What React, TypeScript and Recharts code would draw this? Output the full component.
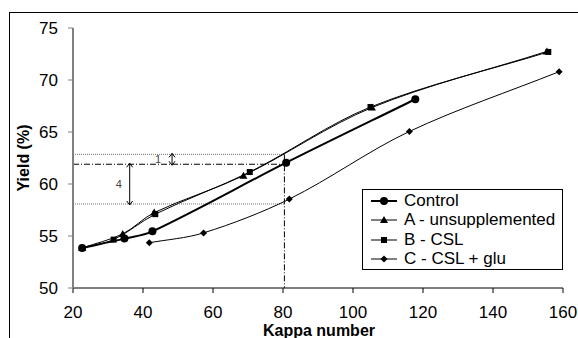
import React from 'react';
import { ComposedChart, Line, XAxis, YAxis, ReferenceLine, Legend, Label } from 'recharts';

const FONT = '"Liberation Sans", Arial, Helvetica, sans-serif';

const xTicks = [20, 40, 60, 80, 100, 120, 140, 160];
const yTicks = [50, 55, 60, 65, 70, 75];

const controlKappa = [22.6, 34.7, 42.7, 80.9, 117.8];
const controlYield = [53.85, 54.75, 55.45, 62.05, 68.15];
const aKappa = [22.6, 34.2, 43.2, 68.7, 105.4, 155.4];
const aYield = [53.85, 55.2, 57.25, 60.8, 67.35, 72.75];
const bKappa = [22.6, 31.6, 43.5, 70.5, 105.0, 155.8];
const bYield = [53.85, 54.65, 57.1, 61.15, 67.4, 72.7];
const cKappa = [41.8, 57.3, 81.8, 116.1, 158.9];
const cYield = [54.35, 55.3, 58.55, 65.05, 70.8];

const seriesNames = ['Control', 'A - unsupplemented', 'B - CSL', 'C - CSL + glu'];

// annotation values
const guideUpper = 62.85;
const guideMid = 61.9;
const guideLower = 58.08;
const guideKappa = 80.4;
const arrow1Kappa = 48.3;
const arrow4Kappa = 36.2;

const toData = (ks: number[], ys: number[]) => ks.map((k, i) => ({ k, y: ys[i] }));
const controlData = toData(controlKappa, controlYield);
const aData = toData(aKappa, aYield);
const bData = toData(bKappa, bYield);
const cData = toData(cKappa, cYield);

// smoothed line: tangent direction from neighbours, handle length ~ segment length / 3
const smoothCurve = (context: any) => {
  let pts: number[][] = [];
  const tangent = (i: number) => {
    const a = pts[Math.max(0, i - 1)];
    const b = pts[Math.min(pts.length - 1, i + 1)];
    const dx = b[0] - a[0];
    const dy = b[1] - a[1];
    const len = Math.hypot(dx, dy) || 1;
    return [dx / len, dy / len];
  };
  return {
    areaStart() {},
    areaEnd() {},
    lineStart() {
      pts = [];
    },
    point(x: number, y: number) {
      pts.push([+x, +y]);
    },
    lineEnd() {
      const n = pts.length;
      if (!n) return;
      context.moveTo(pts[0][0], pts[0][1]);
      for (let i = 0; i < n - 1; i++) {
        const p1 = pts[i];
        const p2 = pts[i + 1];
        const d = Math.hypot(p2[0] - p1[0], p2[1] - p1[1]) * 0.33;
        const t1 = tangent(i);
        const t2 = tangent(i + 1);
        context.bezierCurveTo(p1[0] + t1[0] * d, p1[1] + t1[1] * d, p2[0] - t2[0] * d, p2[1] - t2[1] * d, p2[0], p2[1]);
      }
    },
  };
};

type MarkerKind = 'circle' | 'triangle' | 'square' | 'diamond';

const Marker = ({ kind, cx, cy }: { kind: MarkerKind; cx: number; cy: number }) => {
  if (kind === 'circle') return <circle cx={cx} cy={cy} r={4} fill="#000" />;
  if (kind === 'triangle')
    return <polygon points={`${cx},${cy - 4} ${cx + 4},${cy + 3} ${cx - 4},${cy + 3}`} fill="#000" />;
  if (kind === 'square') return <rect x={cx - 3} y={cy - 3} width={6} height={6} fill="#000" />;
  return <polygon points={`${cx},${cy - 3.5} ${cx + 3.5},${cy} ${cx},${cy + 3.5} ${cx - 3.5},${cy}`} fill="#000" />;
};

const dotFor = (kind: MarkerKind) => (props: any) => (
  <Marker key={`${kind}-${props.index}`} kind={kind} cx={props.cx} cy={props.cy} />
);

const arrowShape = (label: string, labelDx: number) => (p: any) => {
  const { x1, y1, y2 } = p;
  const top = Math.min(y1, y2) - 1;
  const bot = Math.max(y1, y2) + 1;
  return (
    <g>
      <line x1={x1} y1={top} x2={x1} y2={bot} stroke="#000" strokeWidth={1} />
      <polyline points={`${x1 - 3},${top + 4} ${x1},${top} ${x1 + 3},${top + 4}`} fill="none" stroke="#000" strokeWidth={1} />
      <polyline points={`${x1 - 3},${bot - 4} ${x1},${bot} ${x1 + 3},${bot - 4}`} fill="none" stroke="#000" strokeWidth={1} />
      <text x={x1 + labelDx} y={(top + bot) / 2} textAnchor="middle" dominantBaseline="central" fontSize={11} fill="#444" fontFamily={FONT}>
        {label}
      </text>
    </g>
  );
};

const legendKinds: MarkerKind[] = ['circle', 'triangle', 'square', 'diamond'];

const LegendBox = () => (
  <div
    style={{
      border: '1px solid #000',
      background: '#fff',
      width: 199,
      height: 78,
      boxSizing: 'content-box',
      fontFamily: FONT,
      fontSize: 17,
      color: '#000',
      paddingTop: 1,
    }}
  >
    {seriesNames.map((n, i) => (
      <div key={n} style={{ display: 'flex', alignItems: 'center', height: 19.3, lineHeight: '19px' }}>
        <svg width={36} height={19} style={{ marginLeft: 8, flex: 'none' }}>
          <line x1={0} y1={10} x2={26} y2={10} stroke="#000" strokeWidth={i === 0 ? 2 : 1} />
          <Marker kind={legendKinds[i]} cx={13} cy={10} />
        </svg>
        <span style={{ marginLeft: -3, whiteSpace: 'nowrap' }}>{n}</span>
      </div>
    ))}
  </div>
);

const YLabel = (props: any) => {
  const vb = props.viewBox;
  const cx = 23;
  const cy = vb.y + vb.height / 2;
  return (
    <text x={cx} y={cy} transform={`rotate(-90 ${cx} ${cy})`} textAnchor="middle" dominantBaseline="central" fontWeight="bold" fontSize={16} fontFamily={FONT} fill="#000">
      Yield (%)
    </text>
  );
};

const XLabel = (props: any) => {
  const vb = props.viewBox;
  return (
    <text x={vb.x + vb.width / 2 + 1} y={336} textAnchor="middle" fontWeight="bold" fontSize={16} fontFamily={FONT} fill="#000">
      Kappa number
    </text>
  );
};

export default function App() {
  return (
    <div style={{ position: 'absolute', left: 0, top: 0, width: 578, height: 338, overflow: 'hidden', background: '#fff', fontFamily: FONT }}>
      <div style={{ position: 'absolute', left: 9, top: 12, width: 700, height: 500, border: '1px solid #000' }} />
      <div style={{ position: 'absolute', left: 0, top: 0 }}>
        <ComposedChart width={578} height={338} margin={{ top: 28, right: 15, bottom: 0, left: 0 }}>
          <XAxis
            dataKey="k"
            type="number"
            domain={[20, 160]}
            ticks={xTicks}
            allowDataOverflow
            height={50}
            tickSize={5}
            tickMargin={13}
            axisLine={{ stroke: '#000', strokeWidth: 1 }}
            tickLine={{ stroke: '#000' }}
            tick={{ fill: '#000', fontSize: 17, fontFamily: FONT }}
          >
            <Label content={XLabel} />
          </XAxis>
          <YAxis
            type="number"
            domain={[50, 75]}
            ticks={yTicks}
            allowDataOverflow
            width={73}
            tickSize={5}
            tickMargin={10}
            axisLine={{ stroke: '#808080', strokeWidth: 2 }}
            tickLine={{ stroke: '#808080' }}
            tick={{ fill: '#000', fontSize: 17, fontFamily: FONT }}
          >
            <Label content={YLabel} />
          </YAxis>

          <ReferenceLine segment={[{ x: 20, y: guideUpper }, { x: guideKappa, y: guideUpper }]} stroke="#777" strokeDasharray="1 1" />
          <ReferenceLine segment={[{ x: 20, y: guideLower }, { x: guideKappa, y: guideLower }]} stroke="#777" strokeDasharray="1 1" />
          <ReferenceLine segment={[{ x: 20, y: guideMid }, { x: guideKappa, y: guideMid }]} stroke="#000" strokeDasharray="6 2 1 2" />
          <ReferenceLine segment={[{ x: guideKappa, y: guideUpper }, { x: guideKappa, y: 50 }]} stroke="#000" strokeDasharray="6 2 1 2" />
          <ReferenceLine segment={[{ x: arrow1Kappa, y: guideUpper }, { x: arrow1Kappa, y: guideMid }]} shape={arrowShape('1', -14)} />
          <ReferenceLine segment={[{ x: arrow4Kappa, y: guideMid }, { x: arrow4Kappa, y: guideLower }]} shape={arrowShape('4', -11)} />

          <Line data={cData} dataKey="y" name={seriesNames[3]} type={smoothCurve as any} stroke="#000" strokeWidth={1} dot={dotFor('diamond')} isAnimationActive={false} />
          <Line data={bData} dataKey="y" name={seriesNames[2]} type={smoothCurve as any} stroke="#000" strokeWidth={1} dot={dotFor('square')} isAnimationActive={false} />
          <Line data={aData} dataKey="y" name={seriesNames[1]} type={smoothCurve as any} stroke="#000" strokeWidth={1} dot={dotFor('triangle')} isAnimationActive={false} />
          <Line data={controlData} dataKey="y" name={seriesNames[0]} type={smoothCurve as any} stroke="#000" strokeWidth={2} dot={dotFor('circle')} isAnimationActive={false} />

          <Legend layout="vertical" align="center" verticalAlign="middle" content={() => <LegendBox />} wrapperStyle={{ position: 'absolute', left: 362, top: 189, width: 201, height: 80, margin: 0 }} />
        </ComposedChart>
      </div>
    </div>
  );
}
